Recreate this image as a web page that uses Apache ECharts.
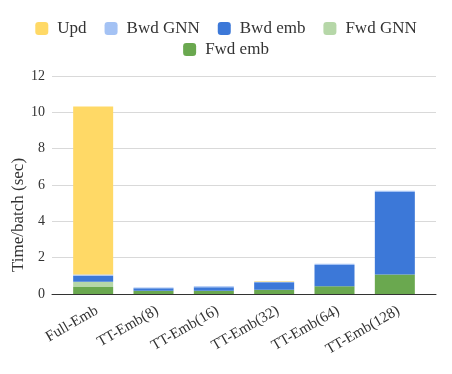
<!DOCTYPE html>
<html lang="en">
<head>
<meta charset="UTF-8">
<title>Time per batch</title>
<style>
  html, body { margin: 0; padding: 0; background: #fff; }
  #chart { width: 452px; height: 374px; }
</style>
</head>
<body>
<div id="chart"></div>
<script src="https://cdn.jsdelivr.net/npm/echarts@6/dist/echarts.min.js"></script>
<script>
var categories = ['Full-Emb', 'TT-Emb(8)', 'TT-Emb(16)', 'TT-Emb(32)', 'TT-Emb(64)', 'TT-Emb(128)']
var fwdEmb = [0.39, 0.18, 0.18, 0.24, 0.42, 1.08]
var fwdGnn = [0.28, 0, 0, 0, 0, 0]
var bwdEmb = [0.33, 0.13, 0.19, 0.40, 1.18, 4.53]
var bwdGnn = [0.07, 0.05, 0.05, 0.03, 0.06, 0.07]
var upd = [9.25, 0, 0, 0.03, 0, 0]
var yTicks = [0, 2, 4, 6, 8, 10, 12]

var font = '"Liberation Serif", "DejaVu Serif", serif'
var textColor = '#333'

function barSeries(name, data, color) {
  return {
    name: name,
    type: 'bar',
    stack: 'total',
    xAxisIndex: 1,
    yAxisIndex: 1,
    barWidth: 40,
    itemStyle: { color: color },
    data: data
  }
}

var chart = echarts.init(document.getElementById('chart'))
var legendText = { fontFamily: font, fontSize: 17, color: textColor, padding: [0, 0, 0, 4] }

chart.setOption({
  animation: false,
  textStyle: { fontFamily: font },
  legend: [
    {
      data: ['Upd', 'Bwd GNN', 'Bwd emb', 'Fwd GNN'],
      top: 15, left: 'center',
      itemWidth: 13, itemHeight: 13, itemGap: 18,
      icon: 'roundRect',
      textStyle: legendText
    },
    {
      data: ['Fwd emb'],
      top: 36, left: 'center',
      itemWidth: 13, itemHeight: 13,
      icon: 'roundRect',
      textStyle: legendText
    }
  ],
  graphic: [{
    type: 'text',
    x: 19, y: 215,
    rotation: Math.PI / 2,
    style: {
      text: 'Time/batch (sec)',
      font: '17px ' + font,
      fill: textColor,
      align: 'center',
      verticalAlign: 'middle'
    }
  }],
  grid: [
    { left: 52, right: 16, top: 76, bottom: 80 },
    { left: 63, right: 27, top: 76, bottom: 80 }
  ],
  xAxis: [
    {
      type: 'category', gridIndex: 0, data: [''],
      axisLine: { lineStyle: { color: '#333', width: 1 } },
      axisTick: { show: false }, axisLabel: { show: false }
    },
    {
      type: 'category', gridIndex: 1, data: categories,
      axisLine: { show: false }, axisTick: { show: false },
      axisLabel: {
        rotate: 30, margin: 9, interval: 0, verticalAlign: 'top',
        fontFamily: font, fontSize: 15, color: textColor
      }
    }
  ],
  yAxis: [
    {
      type: 'value', gridIndex: 0, min: yTicks[0], max: yTicks[yTicks.length - 1], interval: 2,
      axisLine: { show: false }, axisTick: { show: false },
      axisLabel: { margin: 7, fontFamily: font, fontSize: 14, color: textColor },
      splitLine: { lineStyle: { color: '#d9d9d9' } }
    },
    {
      type: 'value', gridIndex: 1, min: yTicks[0], max: yTicks[yTicks.length - 1], interval: 2,
      show: false, splitLine: { show: false }
    }
  ],
  series: [
    barSeries('Fwd emb', fwdEmb, '#6aa84f'),
    barSeries('Fwd GNN', fwdGnn, '#b6d7a8'),
    barSeries('Bwd emb', bwdEmb, '#3c78d8'),
    barSeries('Bwd GNN', bwdGnn, '#a4c2f4'),
    barSeries('Upd', upd, '#ffd966')
  ]
})
</script>
</body>
</html>
